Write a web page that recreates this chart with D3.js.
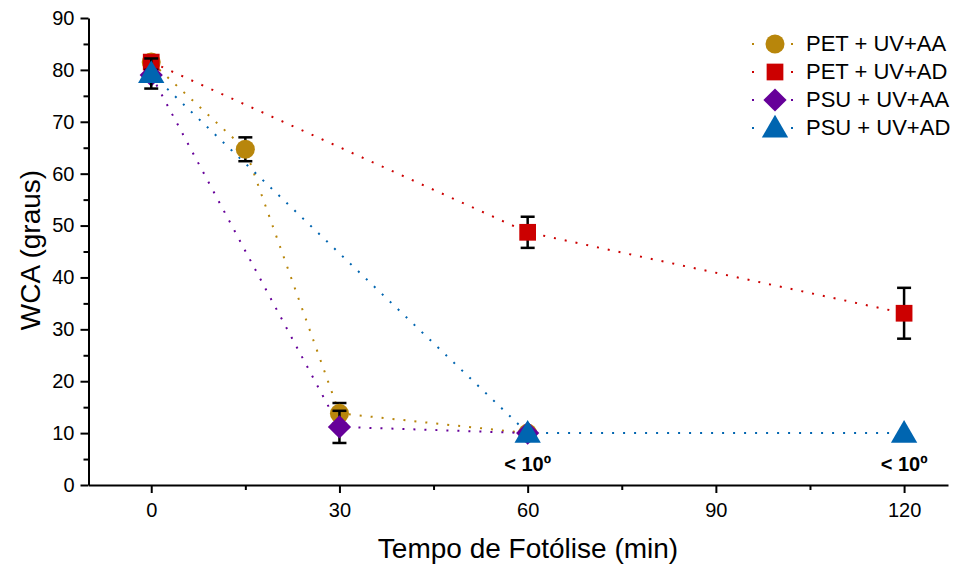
<!DOCTYPE html>
<html><head><meta charset="utf-8">
<script src="https://cdn.jsdelivr.net/npm/d3@7"></script>
<style>body{margin:0;background:#fff}svg{display:block}text{font-family:"Liberation Sans",Arial,sans-serif}</style>
</head><body><svg id="c" width="960" height="565"></svg>
<script>
const seriesNames = ["PET + UV+AA","PET + UV+AD","PSU + UV+AA","PSU + UV+AD"];
const petAA_x = [0,15,30,60], petAA_y = [81.5,64.7,13.8,10], petAA_e = [0.8,2.3,2.0,0];
const petAD_x = [0,60,120], petAD_y = [81.5,48.7,33.1], petAD_e = [0.6,3.0,4.9];
const psuAA_x = [0,30,60], psuAA_y = [79.0,11.2,10], psuAA_e = [1.0,3.1,0];
const psuAD_x = [0,60,120], psuAD_y = [79.3,10,10], psuAD_e = [2.9,0,0];
const xTicks = [0,30,60,90,120], yTicks = [0,10,20,30,40,50,60,70,80,90];
const notes = [{x:60,label:"< 10º"},{x:120,label:"< 10º"}];

const colors = ["#B8860B","#CC0000","#660099","#0065B0"];
const diamond = {draw(ctx,size){const r=Math.sqrt(size/2);ctx.moveTo(0,-r);ctx.lineTo(r,0);ctx.lineTo(0,r);ctx.lineTo(-r,0);ctx.closePath();}};
const shapes = [d3.symbolCircle,d3.symbolSquare,diamond,d3.symbolTriangle];
const sizes = [285,280,270,300];
const series = [
 {x:petAA_x,y:petAA_y,e:petAA_e},{x:petAD_x,y:petAD_y,e:petAD_e},
 {x:psuAA_x,y:psuAA_y,e:psuAA_e},{x:psuAD_x,y:psuAD_y,e:psuAD_e}];

const svg = d3.select("#c");
const x = d3.scaleLinear().domain([-10,127]).range([88.5,948]);
const y = d3.scaleLinear().domain([0,90]).range([485,18]);

svg.append("g").attr("transform","translate(0,485)")
  .call(d3.axisBottom(x).tickValues(xTicks).tickSize(8).tickSizeOuter(0).tickPadding(10));
svg.append("g").attr("transform","translate(0,485)")
  .call(d3.axisBottom(x).tickValues([15,45,75,105]).tickSize(5).tickFormat("").tickSizeOuter(0))
  .select(".domain").remove();
svg.append("g").attr("transform","translate(88.5,0)")
  .call(d3.axisLeft(y).tickValues(yTicks).tickSize(8).tickSizeOuter(0).tickPadding(6));
svg.append("g").attr("transform","translate(88.5,0)")
  .call(d3.axisLeft(y).tickValues(d3.range(5,90,10)).tickSize(5).tickFormat("").tickSizeOuter(0))
  .select(".domain").remove();
svg.selectAll(".domain").attr("stroke","#000").attr("stroke-width",2);
svg.selectAll(".tick line").attr("stroke","#000").attr("stroke-width",2);
svg.selectAll("g").attr("font-size",20).attr("font-family","Liberation Sans, Arial, sans-serif");
svg.selectAll(".tick text").attr("fill","#000");

svg.append("text").attr("x",528).attr("y",558).attr("text-anchor","middle").attr("font-size",28).text("Tempo de Fotólise (min)");
svg.append("text").attr("transform","translate(40,250) rotate(-90)").attr("text-anchor","middle").attr("font-size",28).text("WCA (graus)");

const line = d3.line().x(d=>x(d[0])).y(d=>y(d[1]));
series.forEach((s,i)=>{
  const pts = s.x.map((v,j)=>[v,s.y[j]]);
  svg.append("path").attr("d",line(pts)).attr("fill","none").attr("stroke",colors[i])
    .attr("stroke-width",2).attr("stroke-dasharray","2,9");
});
series.forEach((s,i)=>{
  const g = svg.append("g");
  s.x.forEach((v,j)=>{
    const e = s.e[j];
    if(e>0){
      const cx = x(v), y1 = y(s.y[j]+e), y2 = y(s.y[j]-e);
      g.append("line").attr("x1",cx).attr("x2",cx).attr("y1",y1).attr("y2",y2).attr("stroke","#000").attr("stroke-width",2.5);
      g.append("line").attr("x1",cx-7).attr("x2",cx+7).attr("y1",y1).attr("y2",y1).attr("stroke","#000").attr("stroke-width",2.5);
      g.append("line").attr("x1",cx-7).attr("x2",cx+7).attr("y1",y2).attr("y2",y2).attr("stroke","#000").attr("stroke-width",2.5);
    }
    g.append("path").attr("d",d3.symbol().type(shapes[i]).size(sizes[i])())
      .attr("transform",`translate(${x(v)},${y(s.y[j]) + (i===3?2:0)})`).attr("fill",colors[i]);
  });
});

notes.forEach(n=>{
  svg.append("text").attr("x",x(n.x)).attr("y",471).attr("text-anchor","middle")
    .attr("font-size",20).attr("font-weight","bold").text(n.label);
});

const leg = svg.append("g");
seriesNames.forEach((name,i)=>{
  const ly = 44 + i*28;
  leg.append("line").attr("x1",752).attr("x2",797).attr("y1",ly).attr("y2",ly)
    .attr("stroke",colors[i]).attr("stroke-width",2).attr("stroke-dasharray","2,37");
  leg.append("path").attr("d",d3.symbol().type(shapes[i]).size(sizes[i])())
    .attr("transform",`translate(775,${ly + (i===3?2:0)})`).attr("fill",colors[i]);
  leg.append("text").attr("x",806).attr("y",ly+7).attr("font-size",22).text(name);
});
</script></body></html>
